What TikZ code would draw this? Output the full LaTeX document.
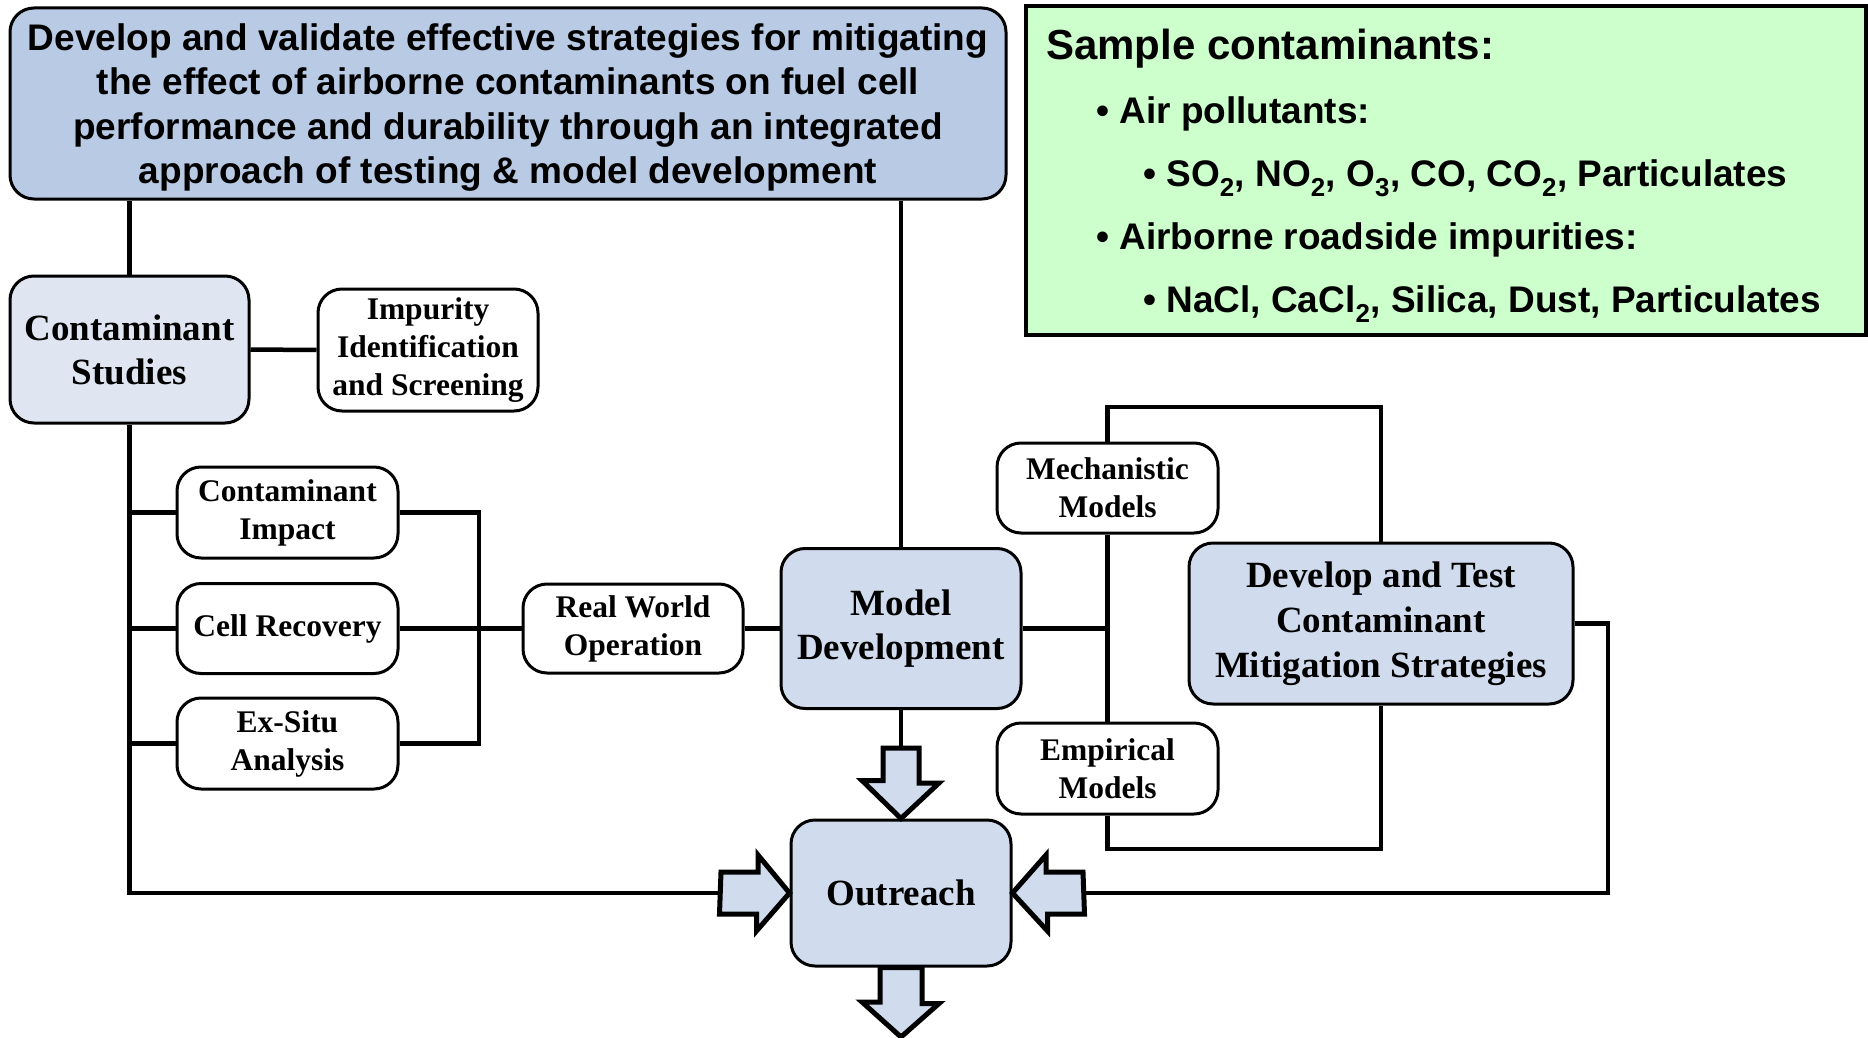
\documentclass[tikz,border=0pt]{standalone}
\usepackage{fontspec}
\setmainfont{Liberation Serif}
\setsansfont{Liberation Sans}
\definecolor{topblue}{HTML}{B9CAE4}
\definecolor{midblue}{HTML}{D0DCEE}
\definecolor{lightblue}{HTML}{DFE6F2}
\definecolor{palegreen}{HTML}{CCFFCC}
\begin{document}
\begin{tikzpicture}[x=1pt,y=-1pt,
  box/.style={draw=black, line width=3pt, rounded corners=24pt, align=center, inner sep=0pt, fill=white,
    font=\bfseries\fontsize{31.5}{38}\selectfont},
  bigbox/.style={box, fill=midblue, font=\bfseries\fontsize{37}{44}\selectfont},
  conn/.style={line width=4.5pt},
  blockarrow/.style={draw=black, fill=midblue, line width=5pt, line join=miter},
  gtxt/.style={anchor=base west, inner sep=0pt, font=\sffamily\bfseries\fontsize{37}{46}\selectfont}]
\useasboundingbox (0,0) rectangle (1868,1038);

% top goal box
\node[box, fill=topblue, minimum width=996pt, minimum height=191pt] (top) at (508,103.5) {};
\node[align=center, inner sep=0pt, font=\sffamily\bfseries\fontsize{37}{44.5}\selectfont] (toptext) at ([yshift=-4pt]top.center)
  {Develop and validate effective strategies for mitigating\\the effect of airborne contaminants on fuel cell\\performance and durability through an integrated\\approach of testing \& model development};

% green contaminant box
\node[draw=black, line width=4.5pt, fill=palegreen, minimum width=840pt, minimum height=329pt, inner sep=0pt] (green) at (1446,170.5) {};
\node[gtxt, font=\sffamily\bfseries\fontsize{42}{50}\selectfont] (g0) at (1046,59.5) {Sample contaminants:};
\node[gtxt] (g1) at (1096,124) {\textbullet\ Air pollutants:};
\node[gtxt] (g2) at (1143,186.5) {\textbullet\ SO\textsubscript{2}, NO\textsubscript{2}, O\textsubscript{3}, CO, CO\textsubscript{2}, Particulates};
\node[gtxt] (g3) at (1096,249.5) {\textbullet\ Airborne roadside impurities:};
\node[gtxt] (g4) at (1143,312.5) {\textbullet\ NaCl, CaCl\textsubscript{2}, Silica, Dust, Particulates};

% process boxes
\node[bigbox, fill=lightblue, minimum width=239pt, minimum height=147pt] (cs) at (129.5,349.5) {Contaminant\\Studies};
\node[box, minimum width=220pt, minimum height=122pt] (imp) at (428,350) {\raisebox{-2pt}{Impurity}\\\raisebox{-2pt}{Identification}\\\raisebox{-2pt}{and Screening}};
\node[box, minimum width=221pt, minimum height=91pt] (ci) at (287.5,512.5) {\raisebox{-1.5pt}{Contaminant}\\\raisebox{-1.5pt}{Impact}};
\node[box, minimum width=221pt, minimum height=90pt] (cr) at (287.5,628.5) {Cell Recovery};
\node[box, minimum width=221pt, minimum height=91pt] (ex) at (287.5,743.5) {\raisebox{-1.5pt}{Ex-Situ}\\\raisebox{-1.5pt}{Analysis}};
\node[box, minimum width=220pt, minimum height=89pt] (rw) at (633,628.5) {\raisebox{-2pt}{Real World}\\\raisebox{-2pt}{Operation}};
\node[bigbox, minimum width=240pt, minimum height=160pt] (md) at (901,628.5) {\raisebox{-3.5pt}{Model}\\\raisebox{-3.5pt}{Development}};
\node[box, minimum width=221pt, minimum height=90pt] (mm) at (1107.5,488) {Mechanistic\\Models};
\node[box, minimum width=221pt, minimum height=91pt] (em) at (1107.5,768.5) {Empirical\\Models};
\node[bigbox, minimum width=384pt, minimum height=161pt, font=\bfseries\fontsize{37}{45}\selectfont] (dt) at (1381,623.5) {\raisebox{-3.5pt}{Develop and Test}\\\raisebox{-3.5pt}{Contaminant}\\\raisebox{-3.5pt}{Mitigation Strategies}};
\node[bigbox, minimum width=220pt, minimum height=146pt] (out) at (901,893) {Outreach};

% helper coordinates
\coordinate (bx) at (479,628.5);
\coordinate (ltail) at (721,893);
\coordinate (rtail) at (1083,893);
\coordinate (rcorner) at (1608,893);
\coordinate (dtail) at (901,748);
\coordinate (mtop) at (1107.5,407);
\coordinate (mbot) at (1107.5,849);

% connectors
\draw[conn] (cs.north) -- (cs.north |- top.south);
\draw[conn] (md.north) -- (md.north |- top.south);
\draw[conn] (cs.east) -- (imp.west);
\draw[conn] (cs.south) |- (ltail);
\draw[conn] (ci.west) -- (ci.west -| cs.south);
\draw[conn] (cr.west) -- (cr.west -| cs.south);
\draw[conn] (ex.west) -- (ex.west -| cs.south);
\draw[conn] (ci.east) -| (bx);
\draw[conn] (ex.east) -| (bx);
\draw[conn] (cr.east) -- (rw.west);
\draw[conn] (rw.east) -- (md.west);
\draw[conn] (md.east) -- (md.east -| mm.south);
\draw[conn] (mm.south) -- (em.north);
\draw[conn] (mm.north) -- (mtop) -| (dt.north);
\draw[conn] (em.south) -- (mbot) -| (dt.south);
\draw[conn] (dt.east) -| (rcorner) -- (rtail);
\draw[conn] (md.south) -- (dtail);

% block arrows
\draw[blockarrow] (dtail) ++(-18,0) -- ++(36,0) -- ++(0,35) -- ++(20,0) -- (out.north) -- ++(-39,-38) -- ++(21,0) -- cycle;
\draw[blockarrow] (ltail) ++(0,-21) -- ++(37,0) -- ++(0,-17) -- (out.west) -- ++(-33,38) -- ++(0,-17) -- ++(-37,0) -- cycle;
\draw[blockarrow] (rtail) ++(0,-21) -- ++(-37,0) -- ++(0,-17) -- (out.east) -- ++(35,38) -- ++(0,-17) -- ++(37,0) -- cycle;
\draw[blockarrow] (out.south) ++(-21,0) -- ++(42,0) -- ++(0,36) -- ++(17,0) -- (901,1037) -- ++(-39,-35) -- ++(18,0) -- cycle;
\end{tikzpicture}
\end{document}
